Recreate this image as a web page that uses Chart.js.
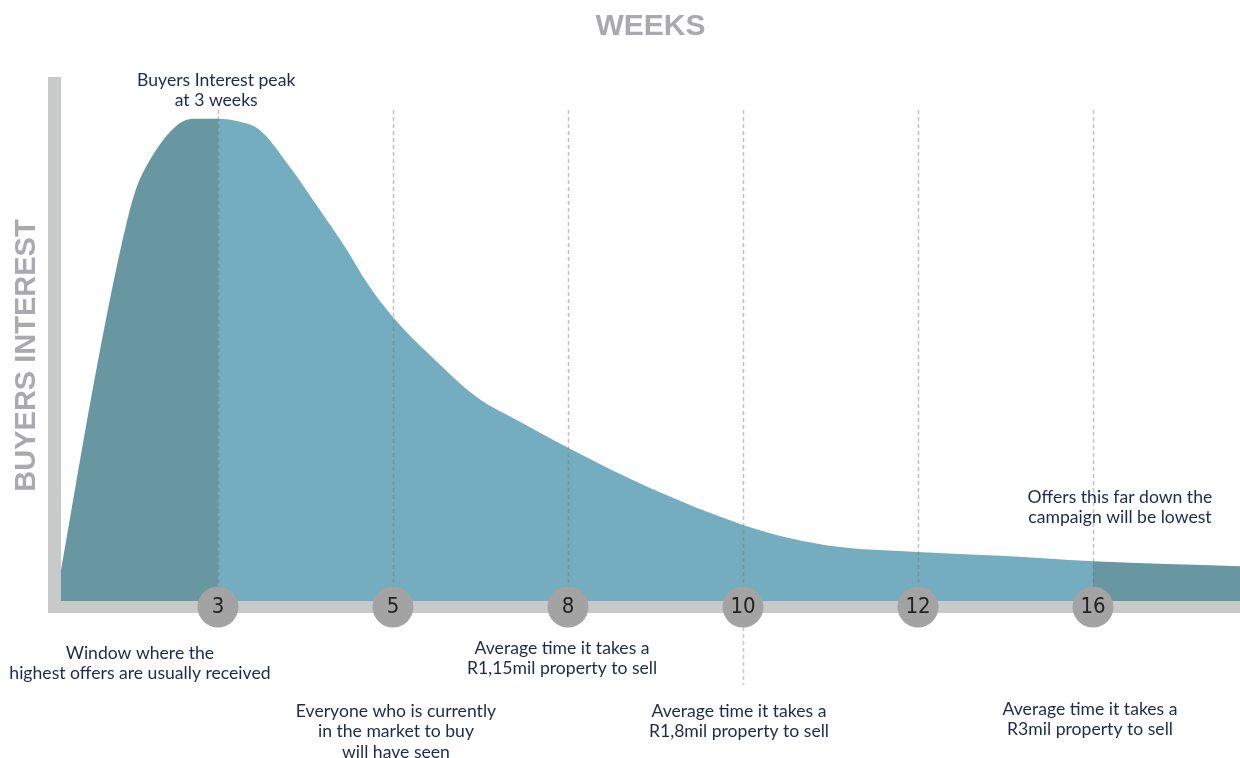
<!DOCTYPE html>
<html>
<head>
<meta charset="utf-8">
<script src="https://cdn.jsdelivr.net/npm/chart.js@4.4.1/dist/chart.umd.min.js"></script>
<style>
  html, body { margin: 0; padding: 0; background: #ffffff; }
  #wrap { width: 1240px; height: 758px; position: relative; }
</style>
</head>
<body>
<div id="wrap"><canvas id="c"></canvas></div>
<script>
// ---- data (x in tick-position units: 1 = week 3 ... 6 = week 16; y = buyer interest) ----
const weekLabels = ['3', '5', '8', '10', '12', '16'];
const tickPos = [1, 2, 3, 4, 5, 6];
const curveX = [0.103, 0.297, 0.451, 0.526, 0.611, 0.766, 0.869, 1, 1.126, 1.24, 1.411, 1.583, 1.737, 1.851, 2, 2.211, 2.48, 2.726, 3, 3.469, 4, 4.269, 4.554, 5, 5.469, 6, 6.84];
const curveY = [6.3, 45.6, 72.9, 83.3, 89.8, 96.9, 98.2, 98.2, 97.6, 95.9, 88.4, 79.6, 71.5, 64.8, 57.8, 50.1, 41.5, 36.5, 31.2, 23.0, 15.5, 12.8, 11.0, 10.0, 9.2, 8.1, 7.1];
const highWindowEnd = 1;   // week 3
const lowWindowStart = 6;  // week 16

const noteText = [
  ['Buyers Interest peak', 'at 3 weeks'],
  ['Window where the', 'highest offers are usually received'],
  ['Average time it takes a', 'R1,15mil property to sell'],
  ['Everyone who is currently', 'in the market to buy', 'will have seen'],
  ['Average time it takes a', 'R1,8mil property to sell'],
  ['Offers this far down the', 'campaign will be lowest'],
  ['Average time it takes a', 'R3mil property to sell']
];
const noteX = [0.99, 0.554, 2.966, 2.017, 3.977, 6.154, 5.983];
const noteY = [106.1, -10.6, -9.57, -22.4, -22.4, 21.2, -22.0];

// ---- styles ----
const DARK = '#6897a2';
const LIGHT = '#74adc0';
const BAR = '#c8c9c9';
const NAVY = '#1d2951';
const TITLE_GREY = '#aaaaae';

const points = curveX.map((x, i) => ({ x: x, y: curveY[i] }));

const decor = {
  id: 'decor',
  afterDatasetsDraw(chart) {
    const { ctx, chartArea: a, scales: { x, y } } = chart;
    ctx.save();
    // axis bars
    ctx.fillStyle = BAR;
    ctx.fillRect(a.left - 13, a.top - 33, 13, a.bottom - a.top + 45);
    ctx.fillRect(a.left - 13, a.bottom, a.right - a.left + 13, 12);
    // dashed guide lines
    ctx.strokeStyle = 'rgba(120,120,120,0.45)';
    ctx.lineWidth = 1.5;
    ctx.setLineDash([4, 3]);
    tickPos.forEach(t => {
      const px = Math.round(x.getPixelForValue(t)) + 0.5;
      ctx.beginPath();
      ctx.moveTo(px, a.top);
      ctx.lineTo(px, a.bottom);
      ctx.stroke();
    });
    // extension below week 10
    const p10 = Math.round(x.getPixelForValue(4)) + 0.5;
    ctx.strokeStyle = 'rgba(200,200,200,1)';
    ctx.beginPath();
    ctx.moveTo(p10, a.bottom + 26);
    ctx.lineTo(p10, y.getPixelForValue(-17.1));
    ctx.stroke();
    ctx.setLineDash([]);
    // tick circles
    ctx.fillStyle = '#a3a3a3';
    tickPos.forEach(t => {
      ctx.beginPath();
      ctx.arc(x.getPixelForValue(t), a.bottom + 6, 20.5, 0, Math.PI * 2);
      ctx.fill();
    });
    ctx.restore();
  },
  afterDraw(chart) {
    const { ctx, scales: { x, y } } = chart;
    ctx.save();
    ctx.fillStyle = NAVY;
    ctx.font = '17.6px "Lato", "Noto Sans", sans-serif';
    ctx.textAlign = 'center';
    ctx.textBaseline = 'middle';
    noteText.forEach((lines, i) => {
      const cx = x.getPixelForValue(noteX[i]);
      const cy = y.getPixelForValue(noteY[i]);
      lines.forEach((ln, j) => ctx.fillText(ln, cx, cy + j * 20.5));
    });
    ctx.restore();
  }
};

new Chart(document.getElementById('c'), {
  type: 'line',
  data: {
    datasets: [{
      data: points,
      fill: 'origin',
      backgroundColor: LIGHT,
      borderWidth: 0,
      borderColor: 'rgba(0,0,0,0)',
      pointRadius: 0,
      cubicInterpolationMode: 'monotone',
      segment: {
        backgroundColor: c => (c.p1.parsed.x <= highWindowEnd + 1e-9 || c.p0.parsed.x >= lowWindowStart - 1e-9) ? DARK : LIGHT
      }
    }]
  },
  options: {
    responsive: true,
    maintainAspectRatio: false,
    animation: false,
    layout: { padding: 0 },
    plugins: {
      legend: { display: false },
      tooltip: { enabled: false },
      title: {
        display: true,
        fullSize: false,
        text: 'WEEKS',
        color: TITLE_GREY,
        font: { family: '"Liberation Sans", Arial, sans-serif', size: 30, weight: 'bold', lineHeight: 1.2 },
        padding: { top: 9, bottom: 65 }
      }
    },
    scales: {
      x: {
        type: 'linear',
        min: curveX[0],
        max: curveX[curveX.length - 1],
        afterBuildTicks: s => { s.ticks = tickPos.map(v => ({ value: v })); },
        afterFit: s => { s.height = 157; },
        grid: { display: false, drawTicks: false },
        border: { display: false },
        ticks: {
          z: 1,
          mirror: true,
          autoSkip: false,
          maxRotation: 0,
          padding: -19.5,
          color: '#222222',
          font: { family: '"Liberation Sans Narrow", "DejaVu Sans Condensed", sans-serif', size: 22 },
          callback: v => weekLabels[tickPos.indexOf(v)]
        }
      },
      y: {
        min: 0,
        max: 100,
        afterFit: s => { s.width = 61; },
        grid: { display: false, drawTicks: false },
        border: { display: false },
        ticks: { display: false },
        title: {
          display: true,
          text: 'BUYERS INTEREST',
          color: TITLE_GREY,
          font: { family: '"Liberation Sans", Arial, sans-serif', size: 29, weight: 'bold', lineHeight: 1.2 },
          padding: { top: 10, bottom: 0 }
        }
      }
    }
  },
  plugins: [decor]
});
</script>
</body>
</html>
